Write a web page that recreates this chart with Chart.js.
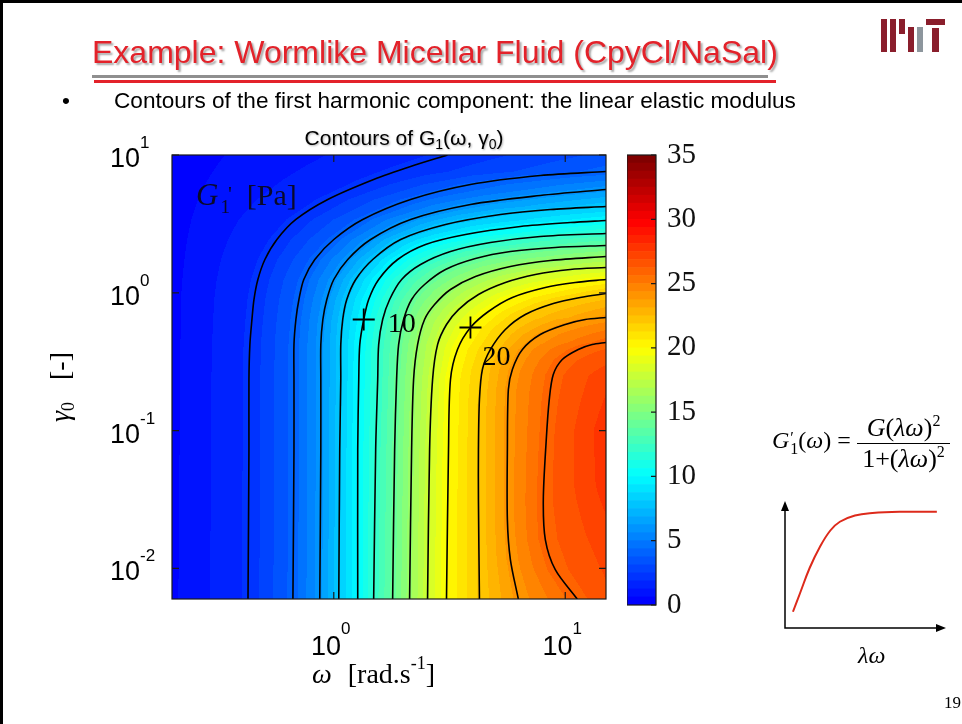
<!DOCTYPE html>
<html>
<head>
<meta charset="utf-8">
<title>Wormlike Micellar Fluid - G1' contours</title>
<script src="https://cdn.jsdelivr.net/npm/chart.js@4.4.1/dist/chart.umd.min.js"></script>
<style>
  html, body { margin: 0; padding: 0; background: #fff; }
  #slide { position: relative; width: 962px; height: 724px; overflow: hidden; background: #fff; }
  #slide canvas { position: absolute; }
  #main { left: 0; top: 0; }
  #cbar { left: 627px; top: 135px; }
  #mini { left: 760px; top: 490px; }
  .txt { position: absolute; white-space: nowrap; }
  .serif { font-family: "Liberation Serif", "Times New Roman", serif; font-size: 26px; line-height: 26px; color: #000; }
  .frame-top { position: absolute; left: 0; top: 0; width: 962px; height: 3px; background: #000; }
  .frame-left { position: absolute; left: 0; top: 0; width: 3px; height: 724px; background: #000; }
  .title { left: 92px; top: 32px; font: 32px/40px "Liberation Sans", Arial, sans-serif; color: #e3222a;
           text-shadow: 2px 2px 2px rgba(0,0,0,0.35); }
  .rule { position: absolute; height: 3px; }
  .point { font: 22.6px/28px "Liberation Sans", Arial, sans-serif; color: #000; }
  .stack { display: inline-block; position: relative; width: 9px; height: 10px; }
  .stack span { position: absolute; left: 1px; font-size: 16px; }
  .sup2 { font-size: 16px; position: relative; top: -10px; }
  .logo div { position: absolute; background: #8a1e2c; }
  .logo .grey { background: #8d969d; }
</style>
</head>
<body>
<div id="slide">
  <canvas id="main" width="962" height="724"></canvas>
  <canvas id="cbar" width="120" height="490"></canvas>
  <canvas id="mini" width="200" height="170"></canvas>

  <div class="frame-top"></div>
  <div class="frame-left"></div>

  <div class="txt title">Example: Wormlike Micellar Fluid (CpyCl/NaSal)</div>
  <div class="rule" style="left:92px; top:75px; width:676px; background:#8f8f8f;"></div>
  <div class="rule" style="left:94px; top:80px; width:682px; background:#e3222a;"></div>

  <div class="txt point" style="left:62px; top:87px;">•</div>
  <div class="txt point" style="left:114px; top:87px;">Contours of the first harmonic component: the linear elastic modulus</div>

  <div class="txt serif" style="left:772px; top:427px; font-size:24px;"><i>G</i><span class="stack"><span style="top:-13px;">′</span><span style="top:-2px;">1</span></span>(<i>ω</i>) =</div>
  <div class="txt serif" style="left:857px; top:415px; width:93px; text-align:center;"><i>G</i>(<i>λω</i>)<span class="sup2">2</span></div>
  <div class="rule" style="left:857px; top:443px; width:93px; height:1px; background:#000;"></div>
  <div class="txt serif" style="left:857px; top:446px; width:93px; text-align:center;">1+(<i>λω</i>)<span class="sup2">2</span></div>
  <div class="txt serif" style="left:858px; top:642px; font-size:24px;"><i>λω</i></div>
  <div class="txt serif" style="left:944px; top:693px; font-size:17px; line-height:20px;">19</div>

  <div class="logo" style="position:absolute; left:881px; top:19px; width:64px; height:34px;">
    <div style="left:0; top:0; width:6px; height:33px;"></div>
    <div style="left:9px; top:0; width:6px; height:33px;"></div>
    <div style="left:18px; top:0; width:6px; height:15px;"></div>
    <div style="left:27px; top:8px; width:6px; height:25px;"></div>
    <div class="grey" style="left:36px; top:8px; width:6px; height:25px;"></div>
    <div style="left:45px; top:0; width:19px; height:6px;"></div>
    <div style="left:51px; top:9px; width:7px; height:24px;"></div>
  </div>
</div>

<script>
// axis ranges and ticks
const omegaRange = [0.2, 15];
const gammaRange = [0.006, 10];
const omegaTicks = [1, 10];
const gammaTicks = [0.01, 0.1, 1, 10];

// contour levels of G1' [Pa] and their traces as [omega, gamma0] points
const levels = [2, 4, 6, 8, 10, 12, 14, 16, 18, 20, 22, 24, 26];
const contourPaths = [
  [[0.426,0.006],[0.430,0.073],[0.430,0.235],[0.434,0.421],[0.443,0.640],[0.452,0.894],[0.470,1.249],[0.504,1.745],[0.568,2.437],[0.686,3.404],[0.942,4.755],[1.487,6.641],[2.147,8.253],[3.10,10]],
  [[0.666,0.006],[0.673,0.073],[0.673,0.235],[0.673,0.421],[0.686,0.640],[0.707,0.894],[0.742,1.249],[0.828,1.745],[1.0,2.437],[1.334,3.404],[2.147,4.755],[3.895,6.108],[7.80,7.099],[15,7.591]],
  [[0.870,0.006],[0.879,0.073],[0.879,0.235],[0.879,0.421],[0.897,0.640],[0.933,0.894],[1.0,1.249],[1.149,1.745],[1.443,2.437],[2.147,3.404],[3.895,4.373],[7.80,5.083],[15,5.618]],
  [[1.051,0.006],[1.061,0.073],[1.072,0.235],[1.072,0.421],[1.093,0.640],[1.138,0.894],[1.244,1.249],[1.473,1.745],[1.945,2.437],[3.039,3.131],[5.247,3.70],[8.616,4.023],[15,4.23]],
  [[1.269,0.006],[1.269,0.073],[1.282,0.235],[1.295,0.421],[1.347,0.640],[1.415,0.894],[1.563,1.249],[1.888,1.745],[2.492,2.241],[3.707,2.649],[6.398,3.028],[10.51,3.237],[15,3.347]],
  [[1.487,0.006],[1.517,0.073],[1.548,0.235],[1.563,0.421],[1.626,0.640],[1.743,0.894],[1.964,1.249],[2.371,1.605],[3.193,1.994],[4.752,2.317],[7.80,2.563],[15,2.693]],
  [[1.796,0.006],[1.832,0.073],[1.868,0.235],[1.906,0.421],[2.003,0.640],[2.169,0.894],[2.467,1.149],[3.039,1.476],[4.093,1.774],[5.794,1.994],[9.056,2.132],[15,2.204]],
  [[2.126,0.006],[2.169,0.073],[2.212,0.235],[2.302,0.421],[2.467,0.640],[2.725,0.822],[3.193,1.057],[4.093,1.313],[5.794,1.552],[8.616,1.716],[15,1.834]],
  [[2.542,0.006],[2.594,0.073],[2.672,0.235],[2.808,0.421],[3.069,0.589],[3.458,0.756],[4.217,0.972],[5.512,1.188],[7.426,1.358],[10.51,1.476],[15,1.526]],
  [[3.069,0.006],[3.131,0.073],[3.193,0.235],[3.423,0.388],[3.895,0.560],[4.658,0.732],[5.909,0.925],[8.202,1.093],[11.04,1.188],[15,1.249]],
  [[4.259,0.006],[4.217,0.0316],[4.217,0.073],[4.259,0.168],[4.387,0.278],[4.752,0.388],[5.512,0.542],[6.724,0.696],[8.878,0.836],[11.60,0.925],[15,0.988]],
  [[6.271,0.006],[5.794,0.0116],[5.623,0.0226],[5.623,0.073],[5.679,0.199],[5.909,0.278],[6.53,0.388],[7.80,0.498],[10.0,0.589],[12.20,0.640],[15,0.662]],
  [[11.27,0.006],[9.056,0.0098],[8.202,0.0162],[8.04,0.0316],[8.28,0.0862],[8.53,0.168],[8.878,0.255],[9.71,0.328],[11.38,0.388],[13.07,0.421],[15,0.436]]
];

// G1' along the left (omega = 0.2) and right (omega = 15) edges, as [gamma0, value]
const leftEdge = [[0.006,0.5],[1,0.45],[10,0.3]];
const rightEdge = [[0.006,26.7],[0.015,27.2],[0.04,27.8],[0.1,27.9],[0.25,27.3],[0.436,26],[0.662,24],[0.988,22],
  [1.249,20],[1.526,18],[1.834,16],[2.204,14],[2.693,12],[3.347,10],[4.23,8],[5.618,6],[7.591,4],[10,3.3]];

// clabel markers
const labelMarks = [[1.347,0.640],[3.895,0.560]];
const labelText = ['10', '20'];

// colour bar
const cbRange = [0, 35];
const cbTicks = [0, 5, 10, 15, 20, 25, 30, 35];
const caxis = [-5, 35];

// sketch of G1'(lambda*omega)
const lambdaOmega = [0.5, 0.95, 1.55, 2.2, 2.85, 3.45, 4.4, 5.5, 7.2, 9.55];
const gPrime = [0.13, 0.28, 0.48, 0.65, 0.78, 0.85, 0.9, 0.92, 0.93, 0.93];

const SANS = '"Liberation Sans", Arial, sans-serif';
const SERIF = '"Liberation Serif", "Times New Roman", serif';

function jet(t) {
  const c = v => Math.max(0, Math.min(1, v));
  return [c(1.5 - Math.abs(4 * t - 3)), c(1.5 - Math.abs(4 * t - 2)), c(1.5 - Math.abs(4 * t - 1))]
    .map(u => Math.round(u * 255));
}
const jet64 = Array.from({ length: 64 }, (_, i) => jet(i / 63));
function colorFor(v) {
  let idx = Math.floor((v - caxis[0]) / (caxis[1] - caxis[0]) * 64);
  idx = Math.max(0, Math.min(63, idx));
  return jet64[idx];
}

function interpEdge(edge, py) {
  // edge: [[pixelY, value]] sorted by pixelY
  if (py <= edge[0][0]) return edge[0][1];
  for (let i = 0; i < edge.length - 1; i++) {
    const [y0, v0] = edge[i], [y1, v1] = edge[i + 1];
    if (py <= y1) return v0 + (v1 - v0) * (py - y0) / (y1 - y0);
  }
  return edge[edge.length - 1][1];
}

function richText(ctx, parts, x, y, align) {
  let w = 0;
  parts.forEach(p => { ctx.font = p[1]; w += ctx.measureText(p[0]).width + (p[3] || 0); });
  let cx = align === 'center' ? x - w / 2 : align === 'right' ? x - w : x;
  parts.forEach(p => {
    ctx.font = p[1];
    ctx.fillText(p[0], cx, y + (p[2] || 0));
    cx += ctx.measureText(p[0]).width + (p[3] || 0);
  });
}

// filled contour background, built row by row from the contour traces
const heatmap = {
  id: 'heatmap',
  beforeDatasetsDraw(chart) {
    const { ctx, chartArea: a, scales: { x, y } } = chart;
    const left = Math.round(a.left), top = Math.round(a.top);
    const w = Math.round(a.right) - left, h = Math.round(a.bottom) - top;
    const img = ctx.createImageData(w, h);
    const paths = contourPaths.map(p => p.map(([o, g]) => [x.getPixelForValue(o), y.getPixelForValue(g)]));
    const edgeL = leftEdge.map(([g, v]) => [y.getPixelForValue(g), v]).sort((p, q) => p[0] - q[0]);
    const edgeR = rightEdge.map(([g, v]) => [y.getPixelForValue(g), v]).sort((p, q) => p[0] - q[0]);
    for (let j = 0; j < h; j++) {
      const py = top + j + 0.5;
      const knots = [[left, interpEdge(edgeL, py)]];
      paths.forEach((path, k) => {
        for (let i = 0; i < path.length - 1; i++) {
          const [x0, y0] = path[i], [x1, y1] = path[i + 1];
          if (y0 !== y1 && (py - y0) * (py - y1) <= 0) {
            knots.push([x0 + (x1 - x0) * (py - y0) / (y1 - y0), levels[k]]);
            break;
          }
        }
      });
      knots.push([left + w, interpEdge(edgeR, py)]);
      knots.sort((p, q) => p[0] - q[0]);
      let m = 0;
      for (let i = 0; i < w; i++) {
        const px = left + i + 0.5;
        while (m < knots.length - 2 && px > knots[m + 1][0]) m++;
        const [xa, va] = knots[m], [xb, vb] = knots[m + 1];
        const v = xb > xa ? va + (vb - va) * Math.min(1, Math.max(0, (px - xa) / (xb - xa))) : vb;
        const c = colorFor(v);
        const o = (j * w + i) * 4;
        img.data[o] = c[0]; img.data[o + 1] = c[1]; img.data[o + 2] = c[2]; img.data[o + 3] = 255;
      }
    }
    ctx.putImageData(img, left, top);
  }
};

// axes box, inward ticks, labels and annotations
const decorations = {
  id: 'decorations',
  afterDraw(chart) {
    const { ctx, chartArea: a, scales: { x, y } } = chart;
    ctx.save();
    ctx.strokeStyle = '#1a1a1a';
    ctx.lineWidth = 1.2;
    ctx.strokeRect(a.left, a.top, a.right - a.left, a.bottom - a.top);
    ctx.beginPath();
    omegaTicks.forEach(v => {
      const px = x.getPixelForValue(v);
      ctx.moveTo(px, a.bottom); ctx.lineTo(px, a.bottom - 7);
      ctx.moveTo(px, a.top); ctx.lineTo(px, a.top + 7);
    });
    gammaTicks.forEach(v => {
      const py = y.getPixelForValue(v);
      ctx.moveTo(a.left, py); ctx.lineTo(a.left + 7, py);
      ctx.moveTo(a.right, py); ctx.lineTo(a.right - 7, py);
    });
    ctx.stroke();

    ctx.fillStyle = '#000';
    ctx.textBaseline = 'alphabetic';
    gammaTicks.forEach(v => {
      const py = y.getPixelForValue(v);
      const e = String(Math.round(Math.log10(v)));
      richText(ctx, [['10', '27px ' + SANS, 0], [e, '17px ' + SANS, -19]], 110, py + 12, 'left');
    });
    omegaTicks.forEach(v => {
      const px = x.getPixelForValue(v);
      const e = String(Math.round(Math.log10(v)));
      richText(ctx, [['10', '27px ' + SANS, 0], [e, '17px ' + SANS, -21]], px - 3, 655, 'center');
    });

    // axis labels
    richText(ctx, [['ω', 'italic 28px ' + SERIF, 0, 16], ['[rad.s', '28px ' + SERIF, 0], ['-1', '18px ' + SERIF, -14], [']', '28px ' + SERIF, 0]],
      312, 683, 'left');
    ctx.save();
    ctx.translate(69, 422);
    ctx.rotate(-Math.PI / 2);
    richText(ctx, [['γ', 'italic 28px ' + SERIF, 0], ['0', '18px ' + SERIF, 5, 22], ['[-]', '28px ' + SERIF, 0]], 0, 0, 'left');
    ctx.restore();

    // title with soft shadow
    ctx.save();
    ctx.shadowColor = 'rgba(0,0,0,0.3)';
    ctx.shadowOffsetX = 1; ctx.shadowOffsetY = 1; ctx.shadowBlur = 2;
    richText(ctx, [['Contours of G', '21px ' + SANS, 0], ['1', '14px ' + SANS, 4], ['(ω, γ', '21px ' + SANS, 0], ['0', '14px ' + SANS, 4], [')', '21px ' + SANS, 0]],
      404, 145, 'center');
    ctx.restore();

    // G1' [Pa] note inside the plot
    ctx.fillStyle = '#0a0a2a';
    richText(ctx, [['G', 'italic 31px ' + SERIF, 0, 2], ['1', '19px ' + SERIF, 8, -2], ['\'', '22px ' + SERIF, -4, 15], ['[Pa]', '30px ' + SERIF, 0]],
      a.left + 24, a.top + 50, 'left');

    // contour labels next to the clabel crosses
    ctx.fillStyle = '#000';
    const offs = [[24, 12], [12, 37]];
    labelMarks.forEach(([o, g], i) => {
      const px = x.getPixelForValue(o), py = y.getPixelForValue(g);
      richText(ctx, [[labelText[i], '28px ' + SERIF, 0]], px + offs[i][0], py + offs[i][1], 'left');
    });
    ctx.restore();
  }
};

new Chart(document.getElementById('main'), {
  type: 'scatter',
  data: {
    datasets: [
      ...contourPaths.map((p, i) => ({
        label: 'G1\' = ' + levels[i] + ' Pa',
        data: p.map(([o, g]) => ({ x: o, y: g })),
        showLine: true,
        borderColor: '#000',
        borderWidth: 1.6,
        pointRadius: 0,
        tension: 0.3
      })),
      {
        label: 'labels',
        data: labelMarks.map(([o, g]) => ({ x: o, y: g })),
        showLine: false,
        pointStyle: 'cross',
        pointRadius: 11,
        pointBorderColor: '#000',
        pointBorderWidth: 1.8
      }
    ]
  },
  options: {
    responsive: false,
    animation: false,
    events: [],
    layout: { padding: { left: 172, top: 155, right: 356, bottom: 125 } },
    scales: {
      x: { type: 'logarithmic', min: omegaRange[0], max: omegaRange[1], display: false },
      y: { type: 'logarithmic', min: gammaRange[0], max: gammaRange[1], display: false }
    },
    plugins: { legend: { display: false }, tooltip: { enabled: false } }
  },
  plugins: [heatmap, decorations]
});

// colour bar: jet(64) over caxis, shown from 0 to 35
const step = (caxis[1] - caxis[0]) / 64;
const cbSets = [];
for (let i = 0; i < 64; i++) {
  const lo = caxis[0] + i * step, hi = lo + step;
  if (hi <= cbRange[0]) continue;
  const c = jet64[i];
  cbSets.push({
    data: [[Math.max(lo, cbRange[0]), hi]],
    backgroundColor: 'rgb(' + c.join(',') + ')',
    borderWidth: 0,
    barPercentage: 1,
    categoryPercentage: 1,
    grouped: false
  });
}
const cbFrame = {
  id: 'cbFrame',
  afterDraw(chart) {
    const { ctx, chartArea: a, scales: { y } } = chart;
    ctx.save();
    ctx.strokeStyle = '#1a1a1a';
    ctx.lineWidth = 1.2;
    ctx.strokeRect(a.left, a.top, a.right - a.left, a.bottom - a.top);
    ctx.beginPath();
    cbTicks.forEach(v => {
      const py = y.getPixelForValue(v);
      ctx.moveTo(a.right, py); ctx.lineTo(a.right - 5, py);
    });
    ctx.stroke();
    ctx.restore();
  }
};
new Chart(document.getElementById('cbar'), {
  type: 'bar',
  data: { labels: ['G1'], datasets: cbSets },
  options: {
    responsive: false,
    animation: false,
    events: [],
    layout: { padding: { left: 0, top: 20, right: 27, bottom: 20 } },
    scales: {
      x: { display: false },
      y: {
        position: 'right',
        min: cbRange[0], max: cbRange[1],
        afterFit: s => { s.width = 64; s.paddingTop = 0; s.paddingBottom = 0; },
        grid: { display: false, drawTicks: false },
        border: { display: false },
        ticks: {
          stepSize: 5,
          padding: 11,
          color: '#111',
          font: { family: '"Liberation Serif", "Times New Roman", serif', size: 29 }
        }
      }
    },
    plugins: { legend: { display: false }, tooltip: { enabled: false } }
  },
  plugins: [cbFrame]
});

// small sketch with arrowed axes
const arrows = {
  id: 'arrows',
  afterDraw(chart) {
    const { ctx, chartArea: a } = chart;
    ctx.save();
    ctx.strokeStyle = '#000';
    ctx.fillStyle = '#000';
    ctx.lineWidth = 1.5;
    ctx.beginPath();
    ctx.moveTo(a.left, a.top + 4); ctx.lineTo(a.left, a.bottom); ctx.lineTo(a.right - 4, a.bottom);
    ctx.stroke();
    ctx.beginPath();
    ctx.moveTo(a.left, a.top - 2); ctx.lineTo(a.left - 4, a.top + 8); ctx.lineTo(a.left + 4, a.top + 8); ctx.closePath();
    ctx.moveTo(a.right + 2, a.bottom); ctx.lineTo(a.right - 8, a.bottom - 4); ctx.lineTo(a.right - 8, a.bottom + 4); ctx.closePath();
    ctx.fill();
    ctx.restore();
  }
};
new Chart(document.getElementById('mini'), {
  type: 'scatter',
  data: {
    datasets: [{
      data: lambdaOmega.map((v, i) => ({ x: v, y: gPrime[i] })),
      showLine: true,
      borderColor: '#dd2a1b',
      borderWidth: 2,
      pointRadius: 0,
      tension: 0.4
    }]
  },
  options: {
    responsive: false,
    animation: false,
    events: [],
    layout: { padding: { left: 25, top: 13, right: 16, bottom: 32 } },
    scales: {
      x: { type: 'linear', min: 0, max: 10, display: false },
      y: { type: 'linear', min: 0, max: 1, display: false }
    },
    plugins: { legend: { display: false }, tooltip: { enabled: false } }
  },
  plugins: [arrows]
});
</script>
</body>
</html>
